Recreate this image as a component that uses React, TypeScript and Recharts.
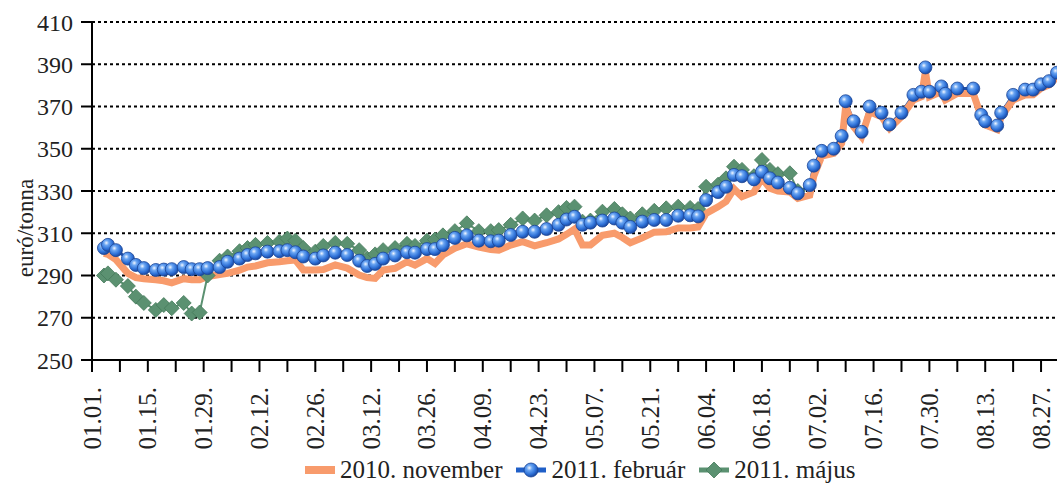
import React from 'react'
import { CartesianGrid, Legend, Line, LineChart, XAxis, YAxis } from 'recharts'

// day of year (0 = 01.01.) for each sampled quote
const days = [
  3, 4, 6, 9, 11, 13, 16, 18, 20, 23,
  25, 27, 29, 32, 34, 37, 39, 41, 44, 47,
  49, 51, 53, 56, 58, 61, 64, 67, 69, 71,
  73, 76, 79, 81, 84, 86, 88, 91, 94, 97,
  100, 102, 105, 108, 111, 114, 117, 119, 121, 123,
  125, 128, 131, 133, 135, 138, 141, 144, 147, 150,
  152, 154, 157, 159, 161, 163, 166, 168, 170, 172,
  175, 177, 180, 181, 183, 186, 188, 189, 191, 193,
  195, 198, 200, 203, 206, 208, 209, 210, 213, 214,
  217, 221, 223, 224, 227, 228, 231, 234, 236, 238,
  240, 242,
]

const nov2010 = [
  300.5, 300, 297.5, 291, 289, 288.5, 288, 287.5, 286.5, 288.5,
  288, 288, 289.5, 290.5, 291, 292.5, 294, 294.5, 296, 296.5,
  297, 297.3, 292.6, 292.6, 292.8, 295, 293.5, 290.2, 289, 288.6,
  292.6, 293.4, 296.5, 294.9, 298, 295.7, 299.7, 302.9, 305, 303.5,
  302.3, 302, 304.4, 306, 304, 305.5, 307.3, 309.5, 312, 304.4,
  304.4, 309, 310, 308, 305.5, 307.8, 310.5, 310.7, 312.5, 312.5,
  313, 319.4, 322.5, 325, 331, 327.3, 329.5, 336, 331.3, 330,
  329.5, 326.5, 328, 337, 346.5, 347.8, 352.6, 369.9, 360.4, 355.7,
  367.5, 365.2, 359.7, 365.2, 373.1, 374.6, 386.5, 374.6, 377, 373.1,
  376.2, 376.2, 365.2, 361.2, 359, 365.2, 373.1, 375.4, 375.5, 378.6,
  380.2, 384,
]

const feb2011 = [
  303, 304.5, 302, 298, 295, 293.5, 292.6, 292.8, 293, 294,
  293, 293, 293.5, 294, 296.5, 298, 299.7, 300.5, 301.3, 301.5,
  302, 301, 299, 298, 299.5, 300.8, 299.7, 297, 294.5, 295.5,
  298, 299.5, 301, 300.8, 302.5, 302.5, 304.4, 307.8, 309, 306.5,
  306.2, 306.5, 309.2, 310.7, 310.7, 312, 314, 316.5, 317.8, 314,
  315, 316, 317, 315, 313, 315.5, 316.3, 316.3, 318.3, 318.5,
  318, 325.7, 329.5, 332, 337.6, 337, 335.5, 339.1, 336, 334,
  331.5, 328.9, 332.8, 342, 349, 350, 356, 372.5, 363, 358,
  370, 367, 361.5, 367, 375.5, 377, 388.5, 377, 379.5, 376,
  378.5, 378.5, 366, 363, 361, 367, 375.5, 378, 378, 380.5,
  382, 386,
]

const may2011 = [
  290, 291, 288, 285, 280, 277, 273.7, 276, 274.5, 277,
  272, 272.5, 290, 297, 299, 301.5, 303, 304.5, 305.4, 306,
  307.5, 306.5, 303, 301.3, 304, 305.4, 305, 302, 298, 300,
  302, 303, 305, 304, 306.5, 307, 309, 311, 314.7, 311,
  311, 311.5, 314, 317, 316, 318.5, 320, 322, 322.6, 315.5,
  316, 320.2, 321.5, 319, 317, 319, 320.6, 321.8, 322.6, 322,
  321.5, 332, 333, 336, 341.5, 340, 337, 344.7, 340, 338,
  338.4, 330,
]

const xTickLabels = [
  '01.01.', '01.15.', '01.29.', '02.12.', '02.26.', '03.12.', '03.26.', '04.09.', '04.23.',
  '05.07.', '05.21.', '06.04.', '06.18.', '07.02.', '07.16.', '07.30.', '08.13.', '08.27.',
]
const yTicks = [250, 270, 290, 310, 330, 350, 370, 390, 410]

const seriesNames = ['2010. november', '2011. február', '2011. május']

const data = days.map((day, i) => ({
  day,
  nov: nov2010[i],
  feb: feb2011[i],
  may: i < may2011.length ? may2011[i] : null,
}))

// weekly ticks, every second one carries a date
const xTicks = xTickLabels.flatMap((_, i) => [i * 14, i * 14 + 7])

const FONT = '"Liberation Serif", "Times New Roman", serif'
const TEXT = '#222'
const ORANGE = '#f89b6c'
const BLUE_LINE = '#1f4fa8'
const GREEN = '#5b9171'

function DateTick(props: any) {
  const { x, y, payload } = props
  const day = payload.value as number
  if (day % 14 !== 0) return <g />
  const label = xTickLabels[day / 14]
  const ty = y + 13
  return (
    <text
      x={x}
      y={ty}
      transform={`rotate(-90, ${x}, ${ty})`}
      textAnchor="end"
      dominantBaseline="central"
      fontSize={25}
      fontFamily={FONT}
      fill={TEXT}
    >
      {label}
    </text>
  )
}

function sphereDot(props: any) {
  const { cx, cy, index } = props
  if (cy == null || cx == null) return <g key={`s${index}`} />
  return (
    <circle
      key={`s${index}`}
      cx={cx}
      cy={cy}
      r={6.5}
      fill="url(#sphereGrad)"
      stroke="#1c4596"
      strokeWidth={0.8}
    />
  )
}

function diamondDot(props: any) {
  const { cx, cy, index } = props
  if (cy == null || cx == null) return <g key={`d${index}`} />
  const h = 7.5
  return (
    <path
      key={`d${index}`}
      d={`M${cx},${cy - h}L${cx + h},${cy}L${cx},${cy + h}L${cx - h},${cy}Z`}
      fill={GREEN}
      stroke="#457a5b"
      strokeWidth={0.8}
    />
  )
}

function SphereStops() {
  return (
    <>
      <stop offset="0%" stopColor="#f2f7ff" />
      <stop offset="30%" stopColor="#6aa5f2" />
      <stop offset="70%" stopColor="#2f72d8" />
      <stop offset="100%" stopColor="#1b4aa3" />
    </>
  )
}

function LegendIcon({ kind }: { kind: number }) {
  if (kind === 0) {
    return (
      <svg width={30} height={16}>
        <rect x={0} y={4} width={30} height={8} fill={ORANGE} />
      </svg>
    )
  }
  if (kind === 1) {
    return (
      <svg width={30} height={16}>
        <defs>
          <radialGradient id="legSphere" cx="0.38" cy="0.35" r="0.65">
            <SphereStops />
          </radialGradient>
        </defs>
        <line x1={0} y1={8} x2={30} y2={8} stroke="#1f5fc8" strokeWidth={5} />
        <circle cx={15} cy={8} r={7} fill="url(#legSphere)" stroke="#1c4596" strokeWidth={0.8} />
      </svg>
    )
  }
  return (
    <svg width={30} height={16}>
      <line x1={0} y1={8} x2={30} y2={8} stroke={GREEN} strokeWidth={5} />
      <path d="M15,0L23,8L15,16L7,8Z" fill={GREEN} stroke="#457a5b" strokeWidth={0.8} />
    </svg>
  )
}

function renderLegend() {
  return (
    <div
      style={{
        display: 'flex',
        alignItems: 'center',
        height: 36,
        paddingLeft: 305,
        fontFamily: FONT,
        fontSize: 25,
        color: TEXT,
        whiteSpace: 'nowrap',
      }}
    >
      {seriesNames.map((name, i) => (
        <span
          key={name}
          style={{ display: 'inline-flex', alignItems: 'center', marginRight: 14 }}
        >
          <LegendIcon kind={i} />
          <span style={{ marginLeft: 5 }}>{name}</span>
        </span>
      ))}
    </div>
  )
}

export default function App() {
  return (
    <div
      style={{
        position: 'absolute',
        left: 0,
        top: 0,
        width: 1057,
        height: 488,
        background: '#fff',
        fontFamily: FONT,
      }}
    >
      <LineChart
        width={1057}
        height={488}
        data={data}
        margin={{ top: 22, right: 0, bottom: 0, left: 0 }}
      >
        <defs>
          <radialGradient id="sphereGrad" cx="0.38" cy="0.35" r="0.65">
            <SphereStops />
          </radialGradient>
        </defs>
        <CartesianGrid
          vertical={false}
          stroke="#000"
          strokeWidth={2}
          strokeDasharray="3 3"
        />
        <XAxis
          dataKey="day"
          type="number"
          domain={[0, 242]}
          ticks={xTicks}
          interval={0}
          allowDataOverflow
          height={92}
          tickSize={12}
          tickMargin={2}
          axisLine={{ stroke: '#000', strokeWidth: 2 }}
          tickLine={{ stroke: '#000', strokeWidth: 2 }}
          tick={(p: any) => <DateTick {...p} />}
        />
        <YAxis
          type="number"
          domain={[250, 410]}
          ticks={yTicks}
          interval={0}
          allowDataOverflow
          width={92}
          tickSize={11}
          tickMargin={8}
          axisLine={{ stroke: '#000', strokeWidth: 2 }}
          tickLine={{ stroke: '#000', strokeWidth: 2 }}
          tick={{ fontSize: 24, fill: TEXT, fontFamily: FONT }}
          label={{
            value: 'euró/tonna',
            angle: -90,
            position: 'center',
            dx: -21,
            dy: 37,
            fontSize: 23,
            fill: TEXT,
            fontFamily: FONT,
          }}
        />
        <Legend verticalAlign="bottom" align="left" content={renderLegend} />
        <Line
          dataKey="may"
          name={seriesNames[2]}
          stroke={GREEN}
          strokeWidth={2}
          dot={diamondDot}
          activeDot={false}
          isAnimationActive={false}
        />
        <Line
          dataKey="feb"
          name={seriesNames[1]}
          stroke={BLUE_LINE}
          strokeWidth={3}
          dot={sphereDot}
          activeDot={false}
          isAnimationActive={false}
        />
        <Line
          dataKey="nov"
          name={seriesNames[0]}
          stroke={ORANGE}
          strokeWidth={7}
          dot={false}
          activeDot={false}
          isAnimationActive={false}
        />
      </LineChart>
    </div>
  )
}
